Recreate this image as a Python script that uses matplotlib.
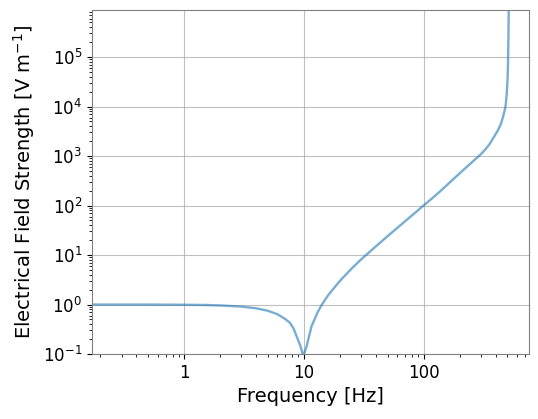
import matplotlib
matplotlib.use("Agg")
import matplotlib.pyplot as plt
from matplotlib.ticker import FuncFormatter, LogLocator, NullFormatter

freq = [0.17, 0.3, 0.5, 1, 1.5, 2, 3, 4, 5, 6, 7, 7.64, 8.2, 8.7, 9.38,
        9.9, 10.55, 11.6, 12, 13, 14, 16, 20, 25, 30, 40, 50, 70, 100, 120,
        137, 170, 201, 240, 270, 290, 310, 330, 358, 390, 420, 445, 462, 475,
        484, 495, 503, 508, 511, 514, 516]
field = [1.0, 1.0, 1.0, 0.99, 0.98, 0.96, 0.91, 0.84, 0.75, 0.64, 0.51, 0.43,
         0.33, 0.23, 0.144, 0.09, 0.144, 0.366, 0.44, 0.69, 0.96, 1.56, 3.0,
         5.3, 8.1, 15, 24, 48, 100, 145, 192, 311, 452, 664, 860, 1000, 1170,
         1380, 1780, 2500, 3380, 4600, 6300, 8200, 10000, 18000, 35000, 80000,
         200000, 600000, 2000000]

xlabel = "Frequency [Hz]"
ylabel = r"Electrical Field Strength [$\mathrm{V\ m^{-1}}$]"

fig = plt.figure(figsize=(5.38, 4.19), dpi=100)
ax = fig.add_axes([0.171, 0.155, 0.812, 0.821])
ax.plot(freq, field, color="#1f77b4", alpha=0.6, lw=1.7)
ax.set_xscale("log")
ax.set_yscale("log")
ax.set_xlim(0.170, 758)
ax.set_ylim(0.1, 8.9e5)

ax.xaxis.set_major_formatter(FuncFormatter(lambda v, p: f"{v:g}"))
ax.xaxis.set_minor_formatter(NullFormatter())
ax.yaxis.set_major_locator(LogLocator(base=10, numticks=20))
ax.yaxis.set_minor_locator(LogLocator(base=10, subs=range(2, 10), numticks=20))
ax.yaxis.set_minor_formatter(NullFormatter())

ax.grid(True, which="major", color="#b0b0b0", lw=0.8, alpha=0.8)
for s in ax.spines.values():
    s.set_color("#808080")
ax.tick_params(labelsize=12)
ax.set_xlabel(xlabel, fontsize=14)
ax.set_ylabel(ylabel, fontsize=14)

fig.savefig("out.png", dpi=100)
